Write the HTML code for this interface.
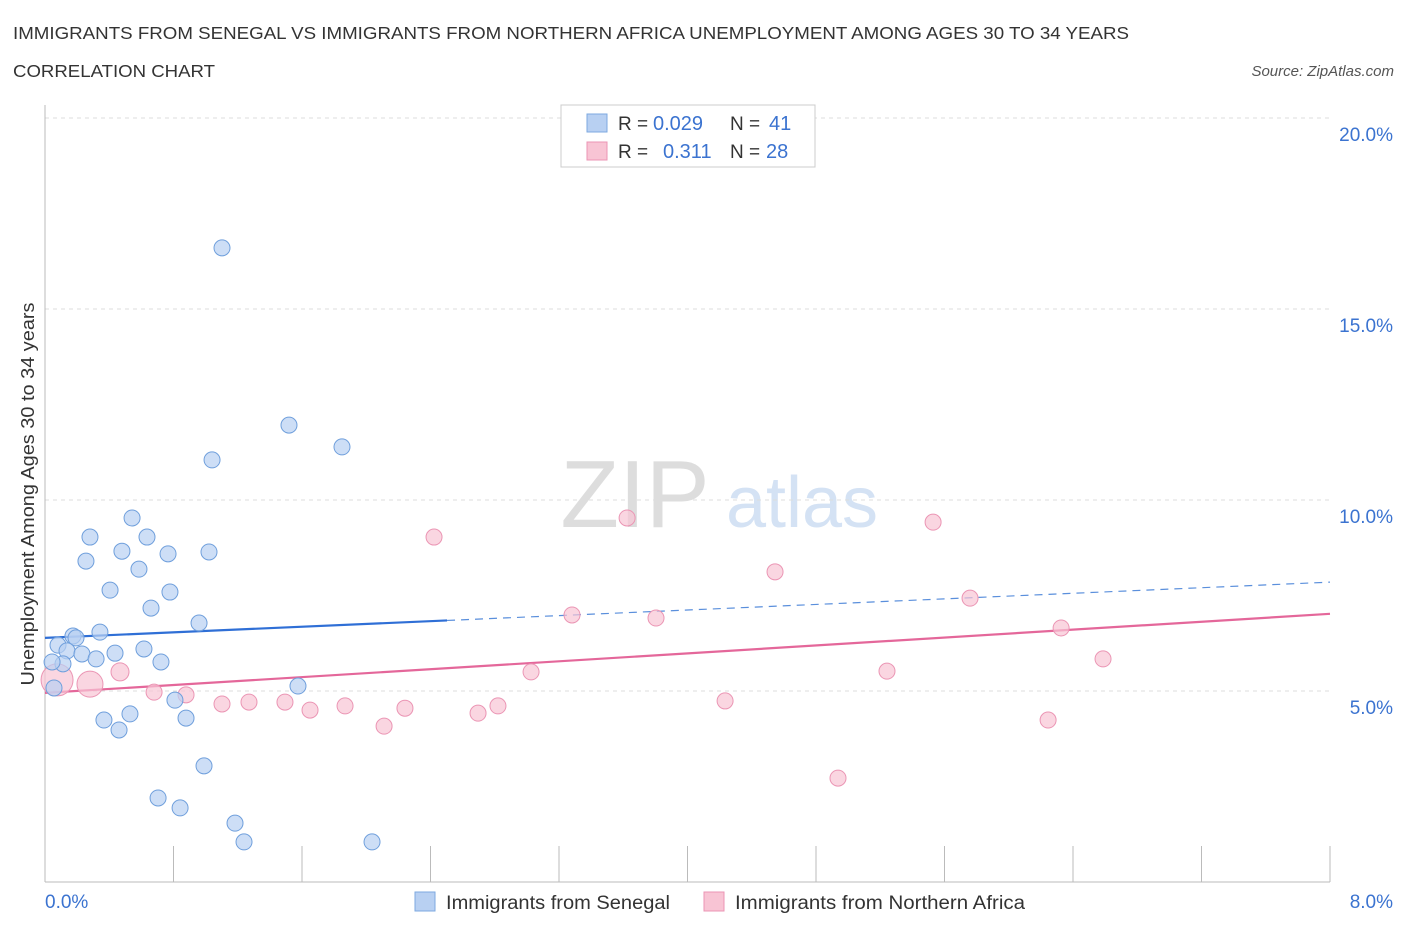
<!DOCTYPE html>
<html><head><meta charset="utf-8"><style>
body{margin:0;background:#fff;font-family:"Liberation Sans",sans-serif;}
svg text{font-family:"Liberation Sans",sans-serif;}
</style></head><body>
<svg id="c" width="1406" height="930" viewBox="0 0 1406 930">
<text x="13" y="39" font-size="17.5" fill="#333" textLength="1116" lengthAdjust="spacingAndGlyphs">IMMIGRANTS FROM SENEGAL VS IMMIGRANTS FROM NORTHERN AFRICA UNEMPLOYMENT AMONG AGES 30 TO 34 YEARS</text>
<text x="13" y="77" font-size="17.5" fill="#333" textLength="202" lengthAdjust="spacingAndGlyphs">CORRELATION CHART</text>
<text x="1394" y="76" font-size="15" fill="#555" font-style="italic" text-anchor="end">Source: ZipAtlas.com</text>
<g>
<text x="635" y="527" font-size="96" fill="#ddd" font-family="Liberation Serif,serif" text-anchor="middle">ZIP</text>
<text x="802" y="527" font-size="72" fill="#d4e2f4" text-anchor="middle">atlas</text>
</g>
<g id="grid"></g><g id="axes"></g><g id="lines"></g><g id="pts"></g>
<text transform="translate(34,494) rotate(-90)" font-size="18" fill="#333" text-anchor="middle" textLength="383" lengthAdjust="spacingAndGlyphs">Unemployment Among Ages 30 to 34 years</text>
<g>
<rect x="561" y="105" width="254" height="62" fill="#fff" stroke="#ccc"/>
<rect x="587" y="114" width="20" height="18" fill="#b8d0f2" stroke="#7ea9e0"/>
<rect x="587" y="142" width="20" height="18" fill="#f8c4d4" stroke="#eb95b4"/>
<text x="618" y="130" font-size="19" fill="#333">R =</text>
<text x="653" y="130" font-size="20" fill="#3b73d0">0.029</text>
<text x="730" y="130" font-size="19" fill="#333">N =</text>
<text x="769" y="130" font-size="20" fill="#3b73d0">41</text>
<text x="618" y="158" font-size="19" fill="#333">R =</text>
<text x="663" y="158" font-size="20" fill="#3b73d0">0.311</text>
<text x="730" y="158" font-size="19" fill="#333">N =</text>
<text x="766" y="158" font-size="20" fill="#3b73d0">28</text>
</g>
<g>
<rect x="415" y="892" width="20" height="19" fill="#b8d0f2" stroke="#7ea9e0"/>
<text x="446" y="909" font-size="19" fill="#333" textLength="224" lengthAdjust="spacingAndGlyphs">Immigrants from Senegal</text>
<rect x="704" y="892" width="20" height="19" fill="#f8c4d4" stroke="#eb95b4"/>
<text x="735" y="909" font-size="19" fill="#333" textLength="290" lengthAdjust="spacingAndGlyphs">Immigrants from Northern Africa</text>
</g>
</svg>
<script>
const xTicks=[0,8];
const yTicks=[5,10,15,20];
const blueX=[1.102,1.519,1.849,1.040,0.542,0.280,0.635,0.479,0.766,1.021,0.255,0.585,0.405,0.778,0.660,0.959,0.342,0.174,0.193,0.081,0.137,0.230,0.436,0.616,0.318,0.722,0.112,0.044,0.056,1.575,0.809,0.367,0.529,0.878,0.461,0.990,0.704,0.841,1.183,1.239,2.036];
const blueY=[16.60,11.96,11.39,11.05,9.53,9.03,9.03,8.66,8.59,8.64,8.40,8.19,7.64,7.59,7.17,6.78,6.54,6.44,6.39,6.20,6.05,5.97,5.99,6.10,5.84,5.76,5.71,5.76,5.08,5.13,4.76,4.24,4.40,4.29,3.98,3.04,2.20,1.94,1.54,1.05,1.05];
const pinkX=[0.075,0.280,0.467,0.679,0.878,1.102,1.270,1.494,1.650,1.868,2.111,2.241,2.422,2.696,2.820,3.026,3.281,3.624,3.804,4.234,4.545,4.937,5.242,5.529,5.759,6.245,6.326,6.587];
const pinkY=[5.29,5.18,5.50,4.97,4.90,4.66,4.71,4.71,4.50,4.61,4.08,4.55,9.03,4.42,4.61,5.50,6.99,9.53,6.91,4.74,8.12,2.72,5.52,9.42,7.43,4.24,6.65,5.84];
const pinkSize=[16,13,9,8,8,8,8,8,8,8,8,8,8,8,8,8,8,8,8,8,8,8,8,8,8,8,8,8];
const blueTrend=[6.39,7.85];
const pinkTrend=[4.95,7.02];
const blueSolidEnd=2.503;
const NS="http://www.w3.org/2000/svg";
const sx=v=>45+v/8*1285, sy=v=>882-v/5*191;
function mk(p,t,a){const e=document.createElementNS(NS,t);for(const k in a)e.setAttribute(k,a[k]);document.getElementById(p).appendChild(e);return e;}
yTicks.forEach(t=>{
 const l=mk('grid','line',{x1:45,x2:1330,y1:sy(t),y2:sy(t),stroke:'#ddd','stroke-dasharray':'4 4'});
 
 
 const tx=mk('grid','text',{x:1393,y:sy(t)+23,'font-size':19,fill:'#3b73d0','text-anchor':'end'});
 tx.textContent=t.toFixed(1)+'%';
 
 
});
mk('axes','line',{x1:45,x2:45,y1:105,y2:882,stroke:'#bbb'});
mk('axes','line',{x1:45,x2:1330,y1:882,y2:882,stroke:'#bbb'});
for(let i=0;i<=10;i++){const x=sx(i*0.8);mk('axes','line',{x1:x,x2:x,y1:846,y2:882,stroke:'#bbb'});}
xTicks.forEach((t,i)=>{
 const tx=mk('axes','text',{x:i==0?45:1393,y:908,'font-size':19,fill:'#3b73d0','text-anchor':i==0?'start':'end'});
 tx.textContent=t.toFixed(1)+'%';
 
 
});
const slope=(blueTrend[1]-blueTrend[0])/8;
const b1=mk('lines','line',{x1:sx(0),y1:sy(blueTrend[0]),x2:sx(blueSolidEnd),y2:sy(blueTrend[0]+slope*blueSolidEnd),stroke:'#2f6fd6','stroke-width':2.2});


const b2=mk('lines','line',{x1:sx(blueSolidEnd),y1:sy(blueTrend[0]+slope*blueSolidEnd),x2:sx(8),y2:sy(blueTrend[1]),stroke:'#5a8fdc','stroke-width':1.2,'stroke-dasharray':'8 6'});


const p1=mk('lines','line',{x1:sx(0),y1:sy(pinkTrend[0]),x2:sx(8),y2:sy(pinkTrend[1]),stroke:'#e4679a','stroke-width':2.2});


pinkX.forEach((x,i)=>{
 const c=mk('pts','circle',{cx:sx(x),cy:sy(pinkY[i]),r:pinkSize[i],fill:'#f8c4d4','fill-opacity':0.7,stroke:'#eb95b4','stroke-width':1});
 
 
});
blueX.forEach((x,i)=>{
 const c=mk('pts','circle',{cx:sx(x),cy:sy(blueY[i]),r:8,fill:'#b8d0f2','fill-opacity':0.7,stroke:'#6f9fdc','stroke-width':1});
 
 
});
</script>
</body></html>
